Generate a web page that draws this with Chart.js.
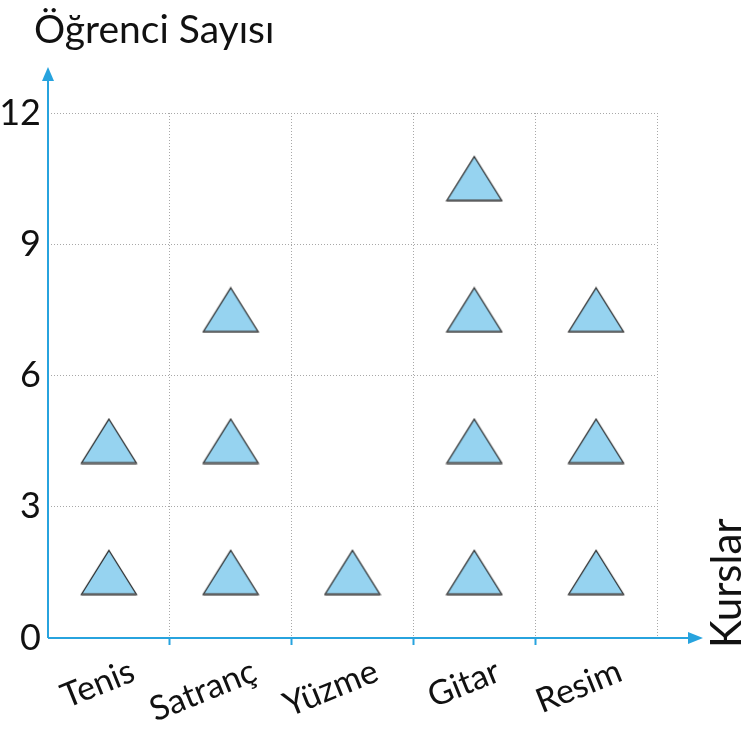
<!DOCTYPE html>
<html>
<head>
<meta charset="utf-8">
<script src="https://cdn.jsdelivr.net/npm/chart.js@4/dist/chart.umd.min.js"></script>
<style>
html,body{margin:0;padding:0;background:#fff;}
#wrap{width:741px;height:729px;position:relative;}
</style>
</head>
<body>
<div id="wrap"><canvas id="c" width="741" height="729"></canvas></div>
<script>
// Data
const categories = ['Tenis', 'Satranç', 'Yüzme', 'Gitar', 'Resim'];
const studentCounts = [6, 9, 3, 12, 9];
const symbolValue = 3; // each triangle = 3 students
const yTicks = [0, 3, 6, 9, 12];
const yTitle = 'Öğrenci Sayısı';
const xTitle = 'Kurslar';

// Build one point per triangle, centred in its cell
const points = [];
categories.forEach((cat, i) => {
  const n = Math.round(studentCounts[i] / symbolValue);
  for (let k = 0; k < n; k++) points.push({x: cat, y: k * symbolValue + symbolValue / 2});
});

// Triangle symbol
function makeTriangle() {
  const w = 58, h = 47;
  const cv = document.createElement('canvas');
  cv.width = w; cv.height = h;
  const g = cv.getContext('2d');
  g.beginPath();
  g.moveTo(w / 2, 1.5);
  g.lineTo(w - 1.5, h - 1.5);
  g.lineTo(1.5, h - 1.5);
  g.closePath();
  g.fillStyle = '#96d3f0';
  g.fill();
  g.lineWidth = 1.3;
  g.strokeStyle = '#2a2a2a';
  g.stroke();
  g.beginPath();
  g.moveTo(1.5, h - 1.5); g.lineTo(w - 1.5, h - 1.5);
  g.lineWidth = 2; g.strokeStyle = '#5a5a5a'; g.stroke();
  return cv;
}
const tri = makeTriangle();

const BLUE = '#27a3de';
const FONT = "Lato, 'Open Sans', sans-serif";
const GRID = '#a8a8a8';

const axesPlugin = {
  id: 'axesArrows',
  afterDraw(chart) {
    const {ctx, chartArea: a} = chart;
    ctx.save();
    ctx.strokeStyle = BLUE; ctx.fillStyle = BLUE; ctx.lineWidth = 2;
    // y axis
    ctx.beginPath(); ctx.moveTo(a.left, a.bottom); ctx.lineTo(a.left, 76); ctx.stroke();
    ctx.beginPath(); ctx.moveTo(a.left, 67); ctx.lineTo(a.left - 6, 81); ctx.lineTo(a.left + 6, 81); ctx.closePath(); ctx.fill();
    // x axis
    ctx.beginPath(); ctx.moveTo(a.left, a.bottom); ctx.lineTo(694, a.bottom); ctx.stroke();
    ctx.beginPath(); ctx.moveTo(703, a.bottom); ctx.lineTo(688, a.bottom - 6); ctx.lineTo(688, a.bottom + 6); ctx.closePath(); ctx.fill();
    // titles
    ctx.fillStyle = '#111';
    ctx.font = "39px " + FONT;
    ctx.textAlign = 'left'; ctx.textBaseline = 'alphabetic';
    ctx.fillText(yTitle, 34, 43);
    ctx.save();
    ctx.translate(741, 648);
    ctx.rotate(-Math.PI / 2);
    ctx.font = "42px " + FONT;
    ctx.textAlign = 'left';
    ctx.fillText(xTitle, 0, 0);
    ctx.restore();
    ctx.restore();
  }
};

new Chart(document.getElementById('c'), {
  type: 'scatter',
  data: {
    labels: categories,
    datasets: [{
      data: points,
      pointStyle: tri,
      pointRadius: 25,
      pointHoverRadius: 25
    }]
  },
  options: {
    responsive: false,
    animation: false,
    events: [],
    layout: {padding: {top: 113, right: 84, left: 0, bottom: 0}},
    plugins: {legend: {display: false}, tooltip: {enabled: false}, title: {display: false}},
    scales: {
      x: {
        type: 'category',
        labels: categories,
        offset: true,
        border: {display: false, dash: [1, 2]},
        grid: {
          offset: true,
          color: GRID,
          lineWidth: 1,
          drawTicks: true,
          tickLength: 7,
          tickBorderDash: [],
          tickWidth: 2,
          tickColor: (ctx) => (typeof ctx.index === 'number' && ctx.index > 0 && ctx.index < categories.length) ? BLUE : 'rgba(0,0,0,0)'
        },
        ticks: {
          color: '#111',
          font: {family: FONT, size: 34},
          minRotation: 22,
          maxRotation: 22,
          labelOffset: 24,
          padding: 6
        },
        afterFit(s) { s.height = 729 - 638; s.paddingLeft = 0; s.paddingRight = 0; }
      },
      y: {
        min: 0, max: 12,
        afterBuildTicks(s) { s.ticks = yTicks.map(v => ({value: v})); },
        border: {display: false, dash: [1, 2]},
        grid: {
          color: (ctx) => ctx.tick && ctx.tick.value === 0 ? 'rgba(0,0,0,0)' : GRID,
          lineWidth: 1,
          drawTicks: false
        },
        ticks: {
          color: '#111',
          font: {family: FONT, size: 36},
          padding: 7
        },
        afterFit(s) { s.width = 48; }
      }
    }
  },
  plugins: [axesPlugin]
});
</script>
</body>
</html>
